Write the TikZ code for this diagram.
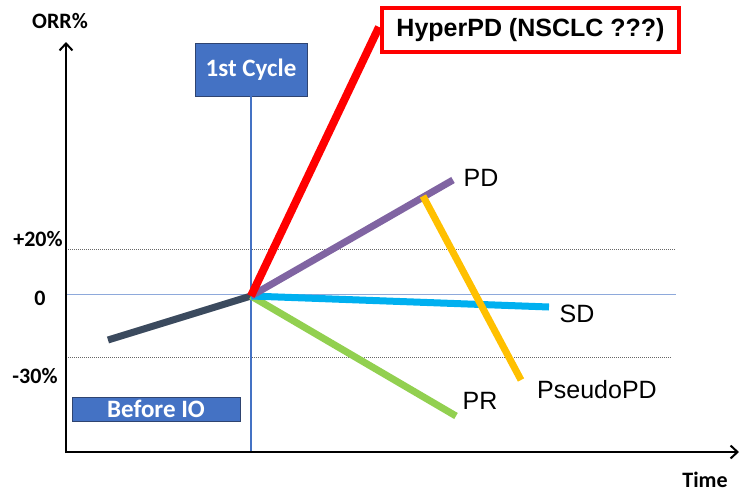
\documentclass[tikz,border=0pt]{standalone}
\usepackage{fontspec}
\setmainfont{Liberation Sans}
\newfontfamily\calib{Carlito}
\usetikzlibrary{arrows.meta}
\definecolor{boxblue}{HTML}{4472C4}
\definecolor{boxedge}{HTML}{2F4470}
\definecolor{zeroblue}{HTML}{8EA9DB}
\definecolor{darkslate}{HTML}{3B4A5E}
\definecolor{hyperred}{HTML}{FF0000}
\definecolor{pdpurple}{HTML}{8064A2}
\definecolor{sdblue}{HTML}{00B0F0}
\definecolor{prgreen}{HTML}{92D050}
\definecolor{pseudoyellow}{HTML}{FFC000}
\tikzset{
  axislbl/.style={font=\calib\bfseries\fontsize{22}{24}\selectfont, inner sep=0pt},
  curvelbl/.style={font=\fontsize{25}{28}\selectfont, inner sep=0pt},
  phasebox/.style={fill=boxblue, draw=boxedge, line width=0.8pt, text=white, font=\calib\bfseries\fontsize{25}{28}\selectfont, inner sep=0pt},
  refline/.style={gray!80!black, line width=0.8pt, dash pattern=on 1pt off 1pt},
  trend/.style={line width=7pt, line cap=butt},
  axisline/.style={line width=2.5pt, -{Straight Barb[length=7pt,width=13pt,line width=2pt]}}
}
\begin{document}
\begin{tikzpicture}[x=1pt,y=-1pt]
\useasboundingbox (0,0) rectangle (740,493);
% reference lines
\coordinate (o) at (66,453);
\coordinate (r20a) at (66,249); \coordinate (r20b) at (676,249);
\coordinate (r0a) at (66,294);  \coordinate (r0b) at (676,294);
\coordinate (r30a) at (66,357); \coordinate (r30b) at (672,357);
\draw[refline] (r20a) -- (r20b);
\draw[refline] (r30a) -- (r30b);
\draw[zeroblue, line width=1pt] (r0a) -- (r0b);
% phase box and vertical line
\node[phasebox, minimum width=112pt, minimum height=53pt] (cycle) at (251,69.5) {1st Cycle};
\coordinate (vbot) at (251,452);
\draw[boxblue, line width=2.5pt] (cycle.south) -- (vbot);
\node[phasebox, minimum width=168pt, minimum height=24pt] (before) at (156,409) {Before IO};
% axes
\coordinate (ytop) at (66,42);
\coordinate (xstart) at (65,452);
\coordinate (xend) at (739,452);
\draw[axisline] (o) -- (ytop);
\draw[axisline] (xstart) -- (xend);
% trend lines
\coordinate (c) at (251,296);
\coordinate (pre) at (108,340);
\coordinate (hyp) at (379,27);
\coordinate (pd) at (453,180);
\coordinate (sd) at (549,307);
\coordinate (pr) at (456,416);
\coordinate (ya) at (423,196);
\coordinate (yb) at (521,380);
\draw[trend, darkslate] (pre) -- (c);
\draw[trend, prgreen] (c) -- (pr);
\draw[trend, sdblue] (c) -- (sd);
\draw[trend, pdpurple] (c) -- (pd);
\draw[trend, hyperred, line width=8pt] (c) -- (hyp);
\draw[trend, pseudoyellow] (ya) -- (yb);
% labels
\node[axislbl] (orr) at (60,21) {ORR\%};
\node[axislbl] (p20) at (38,239) {+20\%};
\node[axislbl] (z0) at (40,298) {0};
\node[axislbl] (m30) at (35,376) {-30\%};
\node[axislbl] (time) at (705,480) {Time};
\node[curvelbl] (pdl) at (481,178) {PD};
\node[curvelbl] (sdl) at (577,314) {SD};
\node[curvelbl] (prl) at (480,401) {PR};
\node[curvelbl] (psl) at (597,390) {PseudoPD};
\node[draw=hyperred, line width=4pt, minimum width=297pt, minimum height=44pt, inner sep=0pt, font=\bfseries\fontsize{25}{28}\selectfont] (hyper) at (530.5,30) {HyperPD (NSCLC ???)};
\end{tikzpicture}
\end{document}
